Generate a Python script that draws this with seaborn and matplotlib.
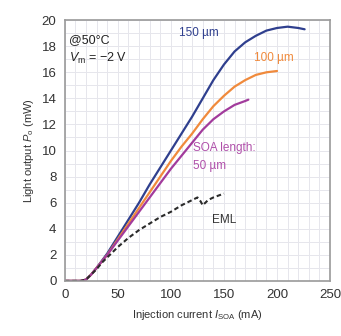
import matplotlib
matplotlib.use("Agg")
import matplotlib.pyplot as plt
import seaborn as sns
import pandas as pd
from matplotlib.ticker import MultipleLocator

# ---- data ----
I150 = [0, 15, 20, 25, 30, 40, 50, 60, 70, 80, 90, 100, 110, 120, 130, 140, 150, 160, 170, 180, 190, 200, 210, 220, 226]
P150 = [0, 0, 0.1, 0.5, 1.0, 2.1, 3.4, 4.7, 6.0, 7.4, 8.7, 10.0, 11.3, 12.6, 14.0, 15.4, 16.6, 17.6, 18.3, 18.8, 19.2, 19.4, 19.5, 19.4, 19.3]

I100 = [0, 15, 20, 25, 30, 40, 50, 60, 70, 80, 90, 100, 110, 120, 130, 140, 150, 160, 170, 180, 190, 200]
P100 = [0, 0, 0.1, 0.5, 1.0, 2.0, 3.2, 4.4, 5.6, 6.8, 8.0, 9.2, 10.3, 11.3, 12.4, 13.4, 14.2, 14.9, 15.4, 15.8, 16.0, 16.1]

I50 = [0, 15, 20, 25, 30, 40, 50, 60, 70, 80, 90, 100, 110, 120, 130, 140, 150, 160, 170, 173]
P50 = [0, 0, 0.1, 0.5, 1.0, 2.0, 3.1, 4.2, 5.3, 6.4, 7.5, 8.6, 9.6, 10.6, 11.6, 12.4, 13.0, 13.5, 13.8, 13.9]

I_eml = [0, 15, 20, 25, 30, 35, 40, 50, 60, 70, 80, 90, 100, 110, 120, 125, 128, 130, 135, 140, 150]
P_eml = [0, 0, 0.1, 0.5, 0.9, 1.4, 1.8, 2.6, 3.3, 3.9, 4.4, 4.9, 5.3, 5.8, 6.2, 6.4, 6.1, 5.8, 6.2, 6.4, 6.7]

x_ticks = [0, 50, 100, 150, 200, 250]
y_ticks = [0, 2, 4, 6, 8, 10, 12, 14, 16, 18, 20]

C150 = "#2f3f8e"
C100 = "#f08a3c"
C50 = "#a23b9c"
CEML = "#2b2b2b"

sns.set_style("white")
plt.rcParams["font.family"] = ["Liberation Sans", "DejaVu Sans"]
plt.rcParams["mathtext.fontset"] = "custom"
plt.rcParams["mathtext.rm"] = "Liberation Sans"
plt.rcParams["mathtext.it"] = "Liberation Sans:italic"

fig = plt.figure(figsize=(3.41, 3.36), dpi=100)
ax = fig.add_axes([0.19, 0.164, 0.778, 0.776])

sns.lineplot(x=I150, y=P150, ax=ax, color=C150, lw=1.6)
sns.lineplot(x=I100, y=P100, ax=ax, color=C100, lw=1.6)
sns.lineplot(x=I50, y=P50, ax=ax, color=C50, lw=1.6)
sns.lineplot(x=I_eml, y=P_eml, ax=ax, color=CEML, lw=1.5)
ax.lines[-1].set_dashes([2.2, 1.4])

ax.set_xlim(0, 250)
ax.set_ylim(0, 20)
ax.set_xticks(x_ticks)
ax.set_yticks(y_ticks)
ax.xaxis.set_minor_locator(MultipleLocator(10))
ax.yaxis.set_minor_locator(MultipleLocator(1))
ax.grid(which="both", color="#e6e6ec", lw=0.7)
ax.set_axisbelow(True)
ax.tick_params(axis="both", which="major", direction="in", length=3, color="#777777",
               labelsize=9.5, labelcolor="#333333", pad=6)
ax.tick_params(which="minor", length=0)
for s in ax.spines.values():
    s.set_color("#9a9a9a")
    s.set_linewidth(1.2)

ax.set_xlabel("Injection current $\\it{I}_{\\rm SOA}$ (mA)", fontsize=8, color="#333333", labelpad=5)
ax.set_ylabel("Light output $\\it{P}_{\\rm o}$ (mW)", fontsize=8, color="#333333", labelpad=4)

ax.text(4, 18.5, "@50°C", fontsize=9, color="#222222", va="center")
ax.text(4, 17.1, "$\\it{V}_{\\rm m}$ = −2 V", fontsize=9, color="#222222", va="center")
ax.text(108, 19.0, "150 µm", fontsize=8.5, color=C150, va="center")
ax.text(178, 17.1, "100 µm", fontsize=8.5, color=C100, va="center")
ax.text(121, 10.2, "SOA length:", fontsize=8.5, color="#b050aa", va="center")
ax.text(121, 8.8, "50 µm", fontsize=8.5, color="#b050aa", va="center")
ax.text(139, 4.7, "EML", fontsize=8.5, color="#333333", va="center")

fig.savefig("out.png", dpi=100)
